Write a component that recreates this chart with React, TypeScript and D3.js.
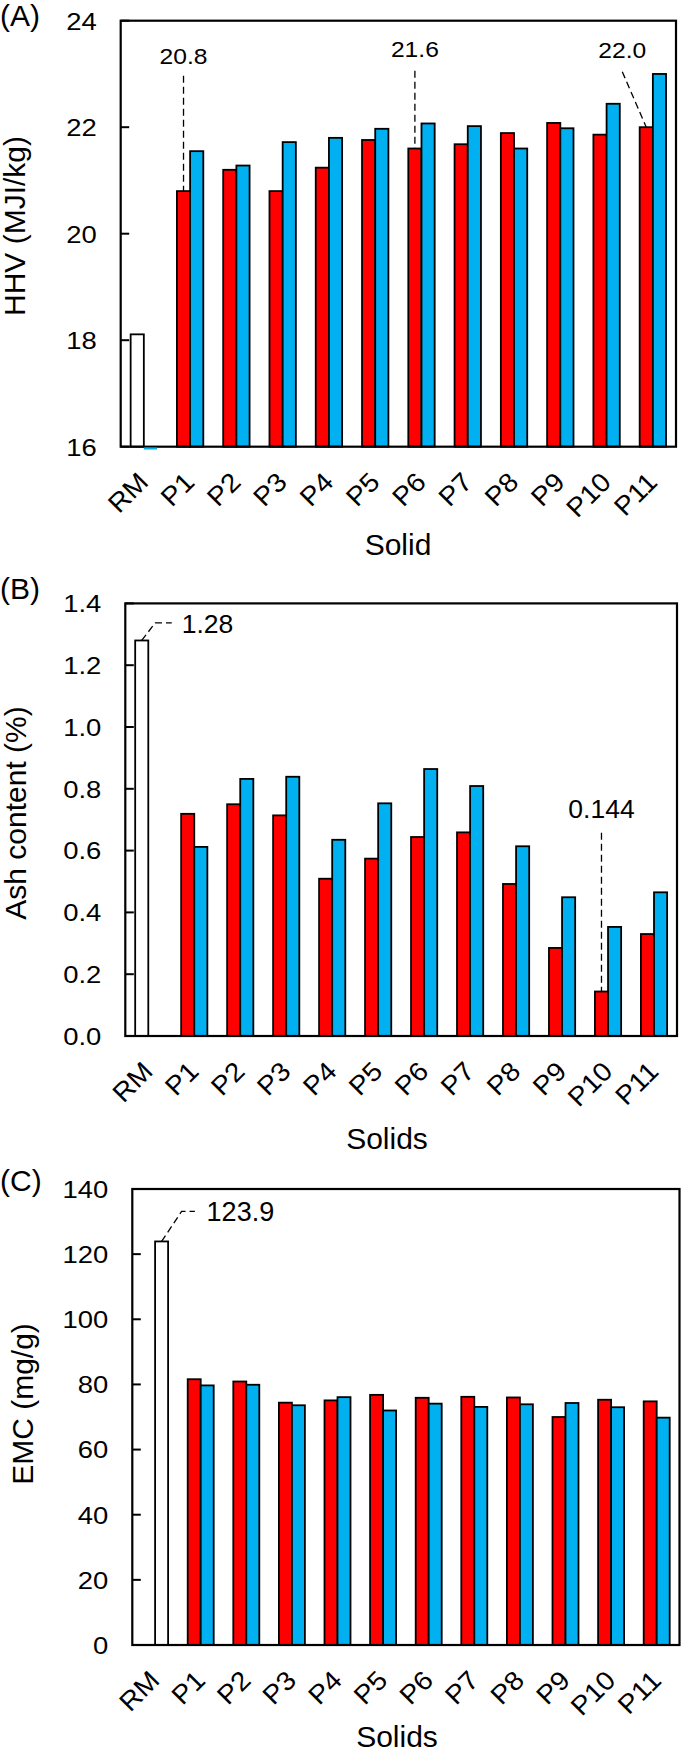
import React from 'react';
import * as d3 from 'd3';

// ---------- DATA ----------
const categories = ['RM', 'P1', 'P2', 'P3', 'P4', 'P5', 'P6', 'P7', 'P8', 'P9', 'P10', 'P11'];
const solids = categories.slice(1);

// (A) HHV (MJ/kg)
const hhvRaw = 18.11;
const hhvRawBlue = 16.0;
const hhvRed = [20.8, 21.2, 20.8, 21.24, 21.76, 21.6, 21.68, 21.89, 22.08, 21.86, 22.0];
const hhvBlue = [21.55, 21.28, 21.72, 21.8, 21.97, 22.07, 22.02, 21.6, 21.98, 22.44, 23.0];
const hhvTicks = [16, 18, 20, 22, 24];

// (B) Ash content (%)
const ashRaw = 1.28;
const ashRed = [0.719, 0.75, 0.714, 0.509, 0.574, 0.644, 0.659, 0.492, 0.285, 0.144, 0.33];
const ashBlue = [0.612, 0.832, 0.839, 0.635, 0.753, 0.864, 0.809, 0.614, 0.449, 0.353, 0.465];
const ashTicks = [0, 0.2, 0.4, 0.6, 0.8, 1.0, 1.2, 1.4];

// (C) EMC (mg/g)
const emcRaw = 123.9;
const emcRed = [81.6, 80.9, 74.4, 75.1, 76.8, 75.9, 76.2, 76.0, 70.0, 75.3, 74.8];
const emcBlue = [79.7, 79.9, 73.6, 76.1, 72.0, 74.1, 73.1, 73.9, 74.3, 73.0, 69.8];
const emcTicks = [0, 20, 40, 60, 80, 100, 120, 140];

// ---------- STYLE ----------
const RED = '#FF0000';
const BLUE = '#00B0F0';
const FONT = '"Liberation Sans", Arial, sans-serif';
const STRETCH = 1.12;

type Callout =
  | { kind: 'vertical'; cat: string; series: 'red' | 'blue' | 'raw'; fmt: string; textY: number; lineTop: number; dx?: number }
  | { kind: 'elbow'; cat: string; series: 'raw'; fmt: string; dx1: number; dy1: number; dx2: number; tdx: number };

interface PanelCfg {
  letter: string;
  left: number; right: number; top: number; bottom: number;
  domain: [number, number];
  ticks: number[];
  tickFmt: string;
  raw: number;
  rawSlot: 'red' | 'blue';
  rawBlue?: number;
  red: number[];
  blue: number[];
  yTitle: string;
  yTitleX: number; yTitleY: number;
  xTitle: string; xTitleX: number; xTitleY: number;
  letterY: number;
  annFont: number;
  annStretch: number;
  callouts: Callout[];
}

const panels: PanelCfg[] = [
  {
    letter: '(A)', left: 120.7, right: 676, top: 20.7, bottom: 446.7,
    domain: [16, 24], ticks: hhvTicks, tickFmt: 'd',
    raw: hhvRaw, rawSlot: 'red', rawBlue: hhvRawBlue, red: hhvRed, blue: hhvBlue,
    yTitle: 'HHV (MJI/kg)', yTitleX: 25, yTitleY: 226,
    xTitle: 'Solid', xTitleX: 398, xTitleY: 555, letterY: 26, annFont: 22, annStretch: STRETCH,
    callouts: [
      { kind: 'vertical', cat: 'P1', series: 'red', fmt: '.1f', textY: 64, lineTop: 75.7 },
      { kind: 'vertical', cat: 'P6', series: 'red', fmt: '.1f', textY: 57, lineTop: 70.7 },
      { kind: 'vertical', cat: 'P11', series: 'red', fmt: '.1f', textY: 58.3, lineTop: 71.7, dx: -24 },
    ],
  },
  {
    letter: '(B)', left: 125.3, right: 677, top: 603.4, bottom: 1036,
    domain: [0, 1.4], ticks: ashTicks, tickFmt: '.1f',
    raw: ashRaw, rawSlot: 'red', red: ashRed, blue: ashBlue,
    yTitle: 'Ash content (%)', yTitleX: 26, yTitleY: 813,
    xTitle: 'Solids', xTitleX: 387, xTitleY: 1149, letterY: 599, annFont: 26.5, annStretch: 1,
    callouts: [
      { kind: 'elbow', cat: 'RM', series: 'raw', fmt: '.2f', dx1: 13.5, dy1: -17.7, dx2: 30, tdx: 40 },
      { kind: 'vertical', cat: 'P10', series: 'red', fmt: '.3f', textY: 818, lineTop: 832.7 },
    ],
  },
  {
    letter: '(C)', left: 132.3, right: 679.5, top: 1189, bottom: 1645,
    domain: [0, 140], ticks: emcTicks, tickFmt: 'd',
    raw: emcRaw, rawSlot: 'blue', red: emcRed, blue: emcBlue,
    yTitle: 'EMC (mg/g)', yTitleX: 33, yTitleY: 1404,
    xTitle: 'Solids', xTitleX: 397, xTitleY: 1747, letterY: 1191, annFont: 27, annStretch: 1,
    callouts: [
      { kind: 'elbow', cat: 'RM', series: 'raw', fmt: '.1f', dx1: 20, dy1: -30, dx2: 33.3, tdx: 45 },
    ],
  },
];

function Panel({ p }: { p: PanelCfg }) {
  const x = d3.scaleBand<string>().domain(categories).range([p.left, p.right]).paddingInner(0).paddingOuter(0);
  const y = d3.scaleLinear().domain(p.domain).range([p.bottom, p.top]);
  const bw = x.bandwidth() * 0.285;
  const cx = (c: string) => (x(c) as number) + x.bandwidth() / 2;
  const base = y(p.domain[0]);
  const fmt = d3.format(p.tickFmt);

  const rawX = p.rawSlot === 'red' ? cx('RM') - bw : cx('RM');

  const barRect = (bx: number, v: number, fill: string, key: string) => (
    <rect key={key} x={bx} y={y(v)} width={bw} height={Math.max(0, base - y(v))}
      fill={fill} stroke="#000" strokeWidth={1.8} />
  );

  const valueOf = (c: Callout): { bx: number; v: number } => {
    if (c.series === 'raw') return { bx: rawX + bw / 2, v: p.raw };
    const i = solids.indexOf(c.cat);
    if (c.series === 'red') return { bx: cx(c.cat) - bw / 2, v: p.red[i] };
    return { bx: cx(c.cat) + bw / 2, v: p.blue[i] };
  };

  return (
    <g>
      {/* bars */}
      {barRect(rawX, p.raw, '#fff', 'raw')}
      {solids.map((c, i) => (
        <g key={c}>
          {barRect(cx(c) - bw, p.red[i], RED, c + 'r')}
          {barRect(cx(c), p.blue[i], BLUE, c + 'b')}
        </g>
      ))}
      {/* frame */}
      <rect x={p.left} y={p.top} width={p.right - p.left} height={p.bottom - p.top}
        fill="none" stroke="#000" strokeWidth={2.2} />
      {p.rawBlue !== undefined && (
        <line x1={cx('RM')} x2={cx('RM') + bw} y1={y(p.rawBlue) + 1.8} y2={y(p.rawBlue) + 1.8}
          stroke={BLUE} strokeWidth={2} />
      )}
      {/* y ticks */}
      {p.ticks.map((t) => (
        <g key={t}>
          <line x1={p.left} x2={p.left + 8.5} y1={y(t)} y2={y(t)} stroke="#000" strokeWidth={2} />
          <text transform={`translate(${p.left - 24},${y(t)}) scale(${STRETCH},1)`} dy="0.36em" textAnchor="end"
            fontSize={24.5} fontFamily={FONT} fill="#000">
            {fmt(t)}
          </text>
        </g>
      ))}
      {/* x tick labels */}
      {categories.map((c) => (
        <text key={c} transform={`translate(${cx(c) + 6},${p.bottom + 37}) rotate(-45) scale(1.06,1)`}
          textAnchor="end" fontSize={26.5} fontFamily={FONT} fill="#000">
          {c}
        </text>
      ))}
      {/* callouts */}
      {p.callouts.map((c, k) => {
        const { bx, v } = valueOf(c);
        const label = d3.format(c.fmt)(v);
        const top = y(v);
        if (c.kind === 'vertical') {
          const tx = bx + (c.dx ?? 0);
          return (
            <g key={k}>
              <line x1={tx} y1={c.lineTop} x2={bx} y2={top} stroke="#000" strokeWidth={1.3} strokeDasharray="7,4" />
              <text transform={`translate(${tx},${c.textY}) scale(${p.annStretch},1)`} textAnchor="middle"
                fontSize={p.annFont} fontFamily={FONT} fill="#000">{label}</text>
            </g>
          );
        }
        const ex = bx + c.dx1;
        const ey = top + c.dy1;
        return (
          <g key={k}>
            <path d={`M${bx},${top}L${ex},${ey}L${bx + c.dx2},${ey}`} fill="none" stroke="#000" strokeWidth={1.3} strokeDasharray="7,4" />
            <text transform={`translate(${bx + c.tdx},${ey + 10}) scale(${p.annStretch},1)`}
              fontSize={p.annFont} fontFamily={FONT} fill="#000">{label}</text>
          </g>
        );
      })}
      {/* titles */}
      <text transform={`translate(${p.yTitleX},${p.yTitleY}) rotate(-90)`} textAnchor="middle"
        fontSize={30} fontFamily={FONT} fill="#000">{p.yTitle}</text>
      <text x={p.xTitleX} y={p.xTitleY} textAnchor="middle" fontSize={30} fontFamily={FONT} fill="#000">{p.xTitle}</text>
      <text x={0} y={p.letterY} fontSize={30} fontFamily={FONT} fill="#000">{p.letter}</text>
    </g>
  );
}

export default function App() {
  return (
    <svg width={685} height={1749} viewBox="0 0 685 1749"
      style={{ position: 'absolute', left: 0, top: 0, background: '#fff' }}>
      <rect x={0} y={0} width={685} height={1749} fill="#fff" />
      {panels.map((p) => <Panel key={p.letter} p={p} />)}
    </svg>
  );
}
